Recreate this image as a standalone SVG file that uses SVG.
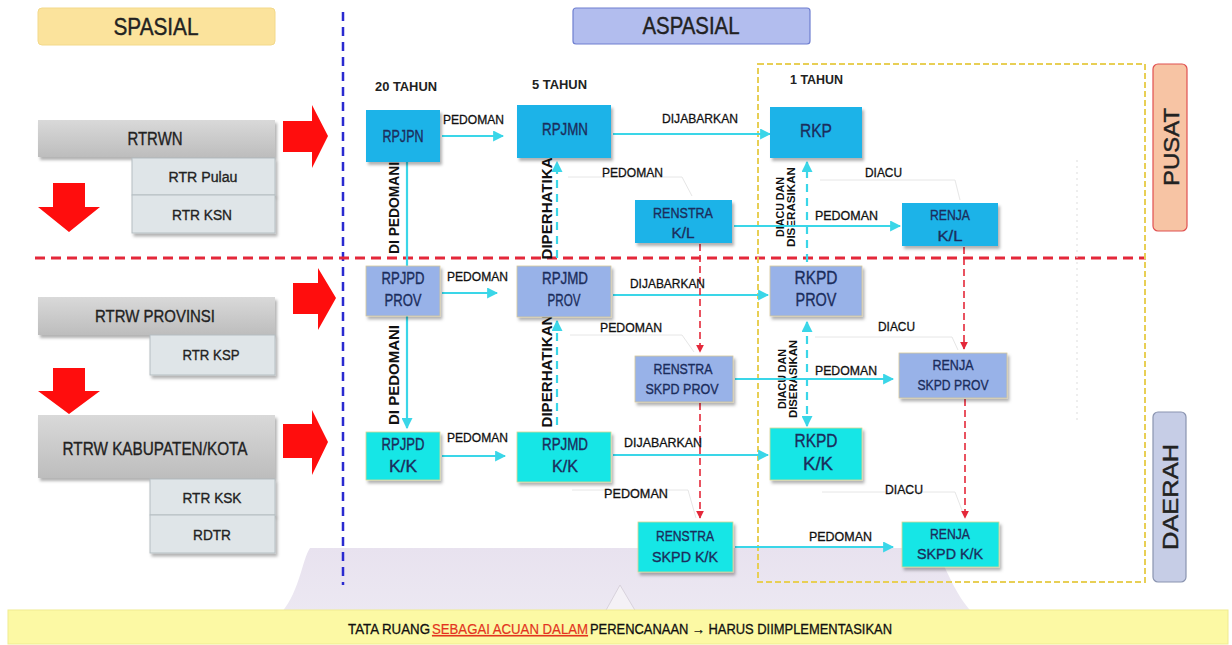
<svg xmlns="http://www.w3.org/2000/svg" width="1232" height="645" viewBox="0 0 1232 645">
<defs>
<style>
text{font-family:"Liberation Sans",Arial,sans-serif;}
.nt{fill:#1b2d5c;stroke:#1b2d5c;stroke-width:0.35;text-anchor:middle;}
.lb{fill:#111;stroke:#111;stroke-width:0.3;}
.sp{fill:#222;stroke:#222;stroke-width:0.35;text-anchor:middle;}
.yr{fill:#222;font-weight:bold;}
.vt{fill:#111;font-weight:bold;text-anchor:middle;}
.cy{stroke:#3ad6e8;stroke-width:2.2;fill:none;}
.cyd{stroke:#3ad6e8;stroke-width:2.2;fill:none;stroke-dasharray:8 6;}
.rd{stroke:#e4283a;stroke-width:1.6;fill:none;stroke-dasharray:7 4;}
.fa{stroke:#e6e6e6;stroke-width:1;fill:none;}
.nb{fill:#1fb3e8;}
.np{fill:#98b2e8;stroke:#d8c99a;stroke-width:0.8;}
.nc{fill:#19e6e6;stroke:#d7d690;stroke-width:0.8;}
.gb{fill:url(#gg);}
.sb{fill:#dfe5e8;stroke:#b5bec2;stroke-width:1;}
.ra{fill:#ff0d0d;}
</style>
<linearGradient id="gg" x1="0" y1="0" x2="0" y2="1"><stop offset="0" stop-color="#d9d9d9"/><stop offset="1" stop-color="#bdbdbd"/></linearGradient>
<linearGradient id="lav" x1="0" y1="0" x2="0" y2="1"><stop offset="0" stop-color="#e8e2ef"/><stop offset="1" stop-color="#ece8f2"/></linearGradient>
<filter id="sh" x="-10%" y="-10%" width="130%" height="140%"><feDropShadow dx="2" dy="3" stdDeviation="1.5" flood-color="#000" flood-opacity="0.3"/></filter>
<marker id="ac" viewBox="0 0 10 10" refX="9" refY="5" markerWidth="5" markerHeight="5" orient="auto-start-reverse"><path d="M0,0 L10,5 L0,10 z" fill="#3ad6e8"/></marker>
<marker id="ar" viewBox="0 0 10 10" refX="9" refY="5" markerWidth="5" markerHeight="5" orient="auto"><path d="M0,0 L10,5 L0,10 z" fill="#e4283a"/></marker>
</defs>
<rect width="1232" height="645" fill="#fff"/>

<!-- background callout -->
<path d="M282,612 C300,590 302,560 310,548 L935,548 C945,565 955,595 972,612 Z" fill="url(#lav)"/>
<path d="M605,612 L620,585 L636,612" fill="#f4f1f6" stroke="#d8d2dc" stroke-width="1"/>

<!-- headers -->
<g id="spasial"><rect x="38" y="8" width="237" height="37" rx="4" fill="#fbe39c" stroke="#f3d98a"/><text x="156" y="35" font-size="23" fill="#222" stroke="#222" stroke-width="0.4" text-anchor="middle" textLength="85" lengthAdjust="spacingAndGlyphs">SPASIAL</text></g>
<g id="aspasial"><rect x="573" y="8" width="237" height="36" rx="3" fill="#b2bdee" stroke="#6f7fd0" stroke-width="1.2"/><text x="691" y="34" font-size="23" fill="#222" stroke="#222" stroke-width="0.4" text-anchor="middle" textLength="97" lengthAdjust="spacingAndGlyphs">ASPASIAL</text></g>

<!-- divider lines -->
<line x1="343" y1="12" x2="343" y2="585" stroke="#2a2ad0" stroke-width="2.5" stroke-dasharray="9 6"/>
<line x1="35" y1="258" x2="1146" y2="258" stroke="#e4283a" stroke-width="3" stroke-dasharray="10 6"/>
<rect x="758" y="64" width="387" height="518" fill="none" stroke="#e8cf55" stroke-width="2" stroke-dasharray="6 3"/>
<line x1="1077" y1="160" x2="1077" y2="420" stroke="#dddddd" stroke-width="1" stroke-dasharray="2 4"/>

<!-- side labels -->
<g id="pusat"><rect x="1153" y="64" width="34" height="167" rx="5" fill="#f7c4a4" stroke="#e05050" stroke-width="1.2"/><text transform="translate(1179,147) rotate(-90)" font-size="22" fill="#222" stroke="#222" stroke-width="0.4" text-anchor="middle" textLength="78" lengthAdjust="spacingAndGlyphs">PUSAT</text></g>
<g id="daerah"><rect x="1153" y="412" width="33" height="170" rx="5" fill="#c6cde6" stroke="#8a94b0" stroke-width="1.2"/><text transform="translate(1178,497) rotate(-90)" font-size="22" fill="#222" stroke="#222" stroke-width="0.4" text-anchor="middle" textLength="106" lengthAdjust="spacingAndGlyphs">DAERAH</text></g>

<!-- spatial column -->
<g id="rtrwn"><rect x="38" y="120" width="237" height="37" class="gb" filter="url(#sh)"/><text class="sp" x="155" y="145" font-size="18" textLength="55" lengthAdjust="spacingAndGlyphs">RTRWN</text></g>
<g id="rtrpulau"><rect x="132" y="158" width="143" height="37" class="sb" filter="url(#sh)"/><text class="sp" x="203" y="182" font-size="15.5" textLength="69" lengthAdjust="spacingAndGlyphs">RTR Pulau</text></g>
<g id="rtrksn"><rect x="132" y="195" width="143" height="38" class="sb" filter="url(#sh)"/><text class="sp" x="202" y="220" font-size="15.5" textLength="60" lengthAdjust="spacingAndGlyphs">RTR KSN</text></g>
<g id="rtrwprov"><rect x="38" y="297" width="237" height="38" class="gb" filter="url(#sh)"/><text class="sp" x="155" y="322" font-size="17" textLength="120" lengthAdjust="spacingAndGlyphs">RTRW PROVINSI</text></g>
<g id="rtrksp"><rect x="150" y="335" width="125" height="40" class="sb" filter="url(#sh)"/><text class="sp" x="211" y="360" font-size="15.5" textLength="57" lengthAdjust="spacingAndGlyphs">RTR KSP</text></g>
<g id="rtrwkab"><rect x="38" y="415" width="237" height="63" class="gb" filter="url(#sh)"/><text class="sp" x="155" y="455" font-size="18.5" textLength="185" lengthAdjust="spacingAndGlyphs">RTRW KABUPATEN/KOTA</text></g>
<g id="rtrksk"><rect x="150" y="479" width="125" height="36" class="sb" filter="url(#sh)"/><text class="sp" x="212" y="503" font-size="15.5" textLength="59" lengthAdjust="spacingAndGlyphs">RTR KSK</text></g>
<g id="rdtr"><rect x="150" y="515" width="125" height="38" class="sb" filter="url(#sh)"/><text class="sp" x="212" y="540" font-size="15.5" textLength="38" lengthAdjust="spacingAndGlyphs">RDTR</text></g>

<!-- red block arrows -->
<g id="redarrows">
<path class="ra" d="M283,121 L312,121 L312,105 L328,136 L312,168 L312,152 L283,152 Z"/>
<path class="ra" d="M293,283 L318,283 L318,268 L336,298 L318,330 L318,314 L293,314 Z"/>
<path class="ra" d="M283,424 L312,424 L312,410 L328,442 L312,475 L312,458 L283,458 Z"/>
<path class="ra" d="M53,183 L85,183 L85,207 L100,207 L69,232 L38,207 L53,207 Z"/>
<path class="ra" d="M53,368 L85,368 L85,391 L100,391 L69,414 L38,391 L53,391 Z"/>
</g>

<!-- year labels -->
<text class="yr" x="375" y="91" font-size="13" textLength="62" lengthAdjust="spacingAndGlyphs">20 TAHUN</text>
<text class="yr" x="532" y="89" font-size="13" textLength="55" lengthAdjust="spacingAndGlyphs">5 TAHUN</text>
<text class="yr" x="790" y="84" font-size="13" textLength="53" lengthAdjust="spacingAndGlyphs">1 TAHUN</text>

<!-- vertical labels (behind nodes) -->
<g id="vlabels">
<text class="vt" transform="translate(399,208) rotate(-90)" font-size="14" textLength="92" lengthAdjust="spacingAndGlyphs">DI PEDOMANI</text>
<text class="vt" transform="translate(399,375) rotate(-90)" font-size="14" textLength="100" lengthAdjust="spacingAndGlyphs">DI PEDOMANI</text>
<text class="vt" transform="translate(552,203) rotate(-90)" font-size="14" textLength="113" lengthAdjust="spacingAndGlyphs">DIPERHATIKAN</text>
<text class="vt" transform="translate(552,371) rotate(-90)" font-size="14" textLength="113" lengthAdjust="spacingAndGlyphs">DIPERHATIKAN</text>
<text class="vt" transform="translate(784,207) rotate(-90)" font-size="11" textLength="60" lengthAdjust="spacingAndGlyphs">DIACU DAN</text>
<text class="vt" transform="translate(795,207) rotate(-90)" font-size="11" textLength="80" lengthAdjust="spacingAndGlyphs">DISERASIKAN</text>
<text class="vt" transform="translate(786,379) rotate(-90)" font-size="11" textLength="60" lengthAdjust="spacingAndGlyphs">DIACU DAN</text>
<text class="vt" transform="translate(797,379) rotate(-90)" font-size="11" textLength="78" lengthAdjust="spacingAndGlyphs">DISERASIKAN</text>
</g>

<!-- connectors -->
<g id="connectors">
<polyline class="fa" points="568,177 682,177 692,196"/>
<polyline class="fa" points="820,180 955,180 960,200"/>
<polyline class="fa" points="570,335 682,335 694,352"/>
<polyline class="fa" points="815,337 952,337 958,350"/>
<polyline class="fa" points="572,490 688,490 696,518"/>
<polyline class="fa" points="822,492 955,492 965,518"/>

<line class="cy" x1="442" y1="136" x2="503" y2="136" marker-end="url(#ac)"/>
<line class="cy" x1="613" y1="134" x2="770" y2="134" marker-end="url(#ac)"/>
<line class="cy" x1="734" y1="226" x2="900" y2="226" marker-end="url(#ac)"/>
<line class="cy" x1="442" y1="293" x2="497" y2="293" marker-end="url(#ac)"/>
<line class="cy" x1="613" y1="295" x2="768" y2="295" marker-end="url(#ac)"/>
<line class="cy" x1="735" y1="379" x2="893" y2="379" marker-end="url(#ac)"/>
<line class="cy" x1="442" y1="456" x2="505" y2="456" marker-end="url(#ac)"/>
<line class="cy" x1="613" y1="455" x2="768" y2="455" marker-end="url(#ac)"/>
<line class="cy" x1="735" y1="547" x2="893" y2="547" marker-end="url(#ac)"/>

<line class="cy" x1="407" y1="162" x2="407" y2="267"/>
<line class="cy" x1="407" y1="316" x2="407" y2="428" marker-end="url(#ac)"/>
<line class="cyd" x1="557" y1="258" x2="557" y2="162" marker-end="url(#ac)"/>
<line class="cyd" x1="557" y1="425" x2="557" y2="321" marker-end="url(#ac)"/>
<line class="cyd" x1="807" y1="262" x2="807" y2="162" marker-end="url(#ac)"/>
<line class="cyd" x1="807" y1="322" x2="807" y2="426" marker-start="url(#ac)" marker-end="url(#ac)"/>

<line class="rd" x1="700" y1="244" x2="700" y2="352" marker-end="url(#ar)"/>
<line class="rd" x1="700" y1="403" x2="700" y2="518" marker-end="url(#ar)"/>
<line class="rd" x1="964" y1="247" x2="964" y2="349" marker-end="url(#ar)"/>
<line class="rd" x1="965" y1="399" x2="965" y2="518" marker-end="url(#ar)"/>
</g>

<!-- connector labels -->
<g id="labels">
<text class="lb" x="443" y="124" font-size="13" textLength="61" lengthAdjust="spacingAndGlyphs">PEDOMAN</text>
<text class="lb" x="662" y="123" font-size="13" textLength="76" lengthAdjust="spacingAndGlyphs">DIJABARKAN</text>
<text class="lb" x="602" y="177" font-size="13" textLength="61" lengthAdjust="spacingAndGlyphs">PEDOMAN</text>
<text class="lb" x="865" y="177" font-size="13" textLength="37" lengthAdjust="spacingAndGlyphs">DIACU</text>
<text class="lb" x="815" y="220" font-size="13" textLength="63" lengthAdjust="spacingAndGlyphs">PEDOMAN</text>
<text class="lb" x="447" y="281" font-size="13" textLength="61" lengthAdjust="spacingAndGlyphs">PEDOMAN</text>
<text class="lb" x="630" y="288" font-size="13" textLength="75" lengthAdjust="spacingAndGlyphs">DIJABARKAN</text>
<text class="lb" x="600" y="332" font-size="13" textLength="62" lengthAdjust="spacingAndGlyphs">PEDOMAN</text>
<text class="lb" x="878" y="331" font-size="13" textLength="37" lengthAdjust="spacingAndGlyphs">DIACU</text>
<text class="lb" x="815" y="375" font-size="13" textLength="62" lengthAdjust="spacingAndGlyphs">PEDOMAN</text>
<text class="lb" x="447" y="442" font-size="13" textLength="61" lengthAdjust="spacingAndGlyphs">PEDOMAN</text>
<text class="lb" x="624" y="447" font-size="13" textLength="78" lengthAdjust="spacingAndGlyphs">DIJABARKAN</text>
<text class="lb" x="604" y="498" font-size="13" textLength="64" lengthAdjust="spacingAndGlyphs">PEDOMAN</text>
<text class="lb" x="885" y="494" font-size="13" textLength="38" lengthAdjust="spacingAndGlyphs">DIACU</text>
<text class="lb" x="809" y="541" font-size="13" textLength="63" lengthAdjust="spacingAndGlyphs">PEDOMAN</text>
</g>

<!-- nodes -->
<g id="rpjpn"><rect x="366" y="110" width="74" height="52" class="nb" filter="url(#sh)"/><text class="nt" x="403" y="142" font-size="16" textLength="41" lengthAdjust="spacingAndGlyphs">RPJPN</text></g>
<g id="rpjmn"><rect x="517" y="105" width="94" height="53" class="nb" filter="url(#sh)"/><text class="nt" x="565" y="135" font-size="16" textLength="46" lengthAdjust="spacingAndGlyphs">RPJMN</text></g>
<g id="rkp"><rect x="770" y="107" width="92" height="51" class="nb" filter="url(#sh)"/><text class="nt" x="816" y="137" font-size="19" textLength="32" lengthAdjust="spacingAndGlyphs">RKP</text></g>
<g id="renstrakl"><rect x="635" y="200" width="97" height="43" class="nb" filter="url(#sh)"/><text class="nt" x="683" y="218" font-size="15" textLength="60" lengthAdjust="spacingAndGlyphs">RENSTRA</text><text class="nt" x="683" y="238" font-size="15" textLength="23" lengthAdjust="spacingAndGlyphs">K/L</text></g>
<g id="renjakl"><rect x="902" y="203" width="96" height="43" class="nb" filter="url(#sh)"/><text class="nt" x="950" y="220" font-size="15" textLength="40" lengthAdjust="spacingAndGlyphs">RENJA</text><text class="nt" x="950" y="241" font-size="15" textLength="25" lengthAdjust="spacingAndGlyphs">K/L</text></g>

<g id="rpjpdprov"><rect x="366" y="266" width="74" height="50" class="np" filter="url(#sh)"/><text class="nt" x="403" y="284" font-size="16" textLength="43" lengthAdjust="spacingAndGlyphs">RPJPD</text><text class="nt" x="403" y="306" font-size="16" textLength="37" lengthAdjust="spacingAndGlyphs">PROV</text></g>
<g id="rpjmdprov"><rect x="517" y="266" width="94" height="51" class="np" filter="url(#sh)"/><text class="nt" x="565" y="284" font-size="16" textLength="46" lengthAdjust="spacingAndGlyphs">RPJMD</text><text class="nt" x="564" y="306" font-size="16" textLength="33" lengthAdjust="spacingAndGlyphs">PROV</text></g>
<g id="rkpdprov"><rect x="770" y="266" width="92" height="50" class="np" filter="url(#sh)"/><text class="nt" x="816" y="284" font-size="18" textLength="43" lengthAdjust="spacingAndGlyphs">RKPD</text><text class="nt" x="816" y="306" font-size="18" textLength="41" lengthAdjust="spacingAndGlyphs">PROV</text></g>
<g id="renstraskpdprov"><rect x="635" y="356" width="98" height="46" class="np" filter="url(#sh)"/><text class="nt" x="683" y="374" font-size="15" textLength="59" lengthAdjust="spacingAndGlyphs">RENSTRA</text><text class="nt" x="682" y="394" font-size="15" textLength="73" lengthAdjust="spacingAndGlyphs">SKPD PROV</text></g>
<g id="renjaskpdprov"><rect x="899" y="353" width="108" height="45" class="np" filter="url(#sh)"/><text class="nt" x="953" y="370" font-size="15" textLength="41" lengthAdjust="spacingAndGlyphs">RENJA</text><text class="nt" x="953" y="390" font-size="15" textLength="71" lengthAdjust="spacingAndGlyphs">SKPD PROV</text></g>

<g id="rpjpdkk"><rect x="366" y="432" width="74" height="48" class="nc" filter="url(#sh)"/><text class="nt" x="403" y="450" font-size="16" textLength="43" lengthAdjust="spacingAndGlyphs">RPJPD</text><text class="nt" x="403" y="472" font-size="16" textLength="28" lengthAdjust="spacingAndGlyphs">K/K</text></g>
<g id="rpjmdkk"><rect x="517" y="432" width="94" height="50" class="nc" filter="url(#sh)"/><text class="nt" x="565" y="450" font-size="16" textLength="46" lengthAdjust="spacingAndGlyphs">RPJMD</text><text class="nt" x="565" y="472" font-size="16" textLength="26" lengthAdjust="spacingAndGlyphs">K/K</text></g>
<g id="rkpdkk"><rect x="770" y="428" width="92" height="52" class="nc" filter="url(#sh)"/><text class="nt" x="816" y="447" font-size="18" textLength="43" lengthAdjust="spacingAndGlyphs">RKPD</text><text class="nt" x="818" y="470" font-size="18" textLength="30" lengthAdjust="spacingAndGlyphs">K/K</text></g>
<g id="renstraskpdkk"><rect x="638" y="522" width="95" height="50" class="nc" filter="url(#sh)"/><text class="nt" x="685" y="541" font-size="15" textLength="58" lengthAdjust="spacingAndGlyphs">RENSTRA</text><text class="nt" x="685" y="562" font-size="15" textLength="66" lengthAdjust="spacingAndGlyphs">SKPD K/K</text></g>
<g id="renjaskpdkk"><rect x="902" y="522" width="97" height="45" class="nc" filter="url(#sh)"/><text class="nt" x="950" y="539" font-size="15" textLength="40" lengthAdjust="spacingAndGlyphs">RENJA</text><text class="nt" x="950" y="559" font-size="15" textLength="66" lengthAdjust="spacingAndGlyphs">SKPD K/K</text></g>

<!-- footer -->
<g id="footer"><rect x="8" y="610" width="1220" height="34" fill="#fcf9a4" stroke="#f0eb90"/>
<text x="348" y="634" font-size="14" fill="#111" stroke="#111" stroke-width="0.3" textLength="82" lengthAdjust="spacingAndGlyphs">TATA RUANG</text>
<text x="432" y="634" font-size="14" fill="#e3341e" stroke="#e3341e" stroke-width="0.2" text-decoration="underline" textLength="156" lengthAdjust="spacingAndGlyphs">SEBAGAI ACUAN DALAM </text>
<text x="590" y="634" font-size="14" fill="#111" stroke="#111" stroke-width="0.3" textLength="302" lengthAdjust="spacingAndGlyphs">PERENCANAAN → HARUS DIIMPLEMENTASIKAN</text></g>
</svg>
